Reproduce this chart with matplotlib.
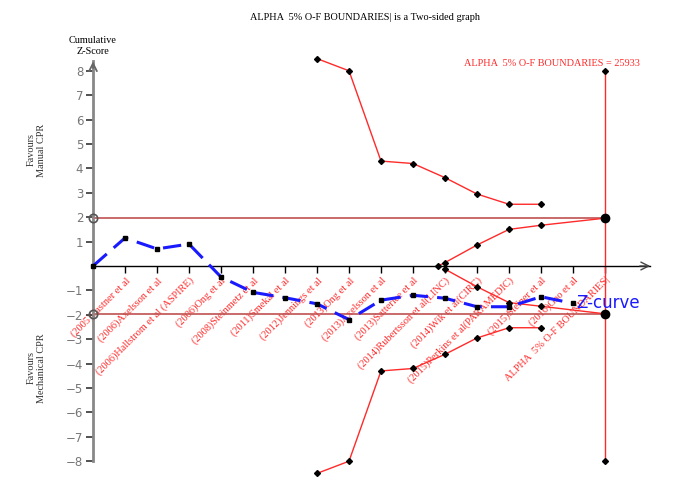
import matplotlib
matplotlib.use('Agg')
import matplotlib.pyplot as plt

# trials along the x axis (information axis)
studies = ['(2005)Castner et al', '(2006)Axelsson et al',
           '(2006)Hallstrom et al (ASPIRE)', '(2006)Ong et al',
           '(2008)Steinmetz et al', '(2011)Smekal et al',
           '(2012)Jennings et al', '(2013)Ong et al',
           '(2013)Axelsson et al', '(2013)Satterlee et al',
           '(2014)Rubertsson et al(LINC)', '(2014)Wik et al(CIRC)',
           '(2015)Perkins et al(PARAMEDIC)', '(2015)Steiner et al',
           '(2016)Gao et al', 'ALPHA  5% O-F BOUNDARIES|']
study_pos = list(range(1, 17))

# cumulative Z-curve
z_x = list(range(0, 16))
z_val = [0, 1.15, 0.7, 0.9, -0.45, -1.08, -1.3, -1.55, -2.2, -1.4, -1.2,
         -1.32, -1.67, -1.67, -1.26, -1.53]

# O'Brien-Fleming monitoring boundaries
obf_x = [7, 8, 9, 10, 11, 12, 13, 14]
obf_up = [8.5, 8.0, 4.3, 4.2, 3.62, 2.95, 2.53, 2.53]
obf_lo = [-8.5, -8.0, -4.3, -4.2, -3.62, -2.95, -2.53, -2.53]

# inner wedge
inner_up_x = [10.78, 11, 12, 13, 14, 16]
inner_up = [0, 0.14, 0.86, 1.5, 1.67, 1.96]
inner_lo_x = [11, 12, 13, 14, 16]
inner_lo = [-0.13, -0.85, -1.5, -1.65, -1.96]

ris_x = 16
ris_lim = [-8, 8]
conv = 1.96
y_ticks = [-8, -7, -6, -5, -4, -3, -2, -1, 1, 2, 3, 4, 5, 6, 7, 8]

serif = 'Liberation Serif'
red = '#ff2a2a'

fig = plt.figure(figsize=(6.73, 4.92), dpi=100)
ax = fig.add_axes([0, 0, 1, 1])
ax.set_xlim(-93 / 32, 580 / 32)
ax.set_ylim(-226 / 24.4, 266 / 24.4)

for s in ['top', 'right']:
    ax.spines[s].set_visible(False)
ax.spines['left'].set_position(('data', 0))
ax.spines['left'].set_bounds(-8, 8.4)
ax.spines['left'].set_color('#888888')
ax.spines['left'].set_linewidth(2)
ax.spines['bottom'].set_position(('data', 0))
ax.spines['bottom'].set_bounds(0, 17.4)
ax.spines['bottom'].set_linewidth(1)

ax.set_yticks(y_ticks)
ax.set_yticklabels([str(v).replace('-', '\u2212') for v in y_ticks])
ax.tick_params(axis='y', colors='#333333', labelcolor='#777777', length=5,
               width=1.2, labelsize=8.5, pad=2)
ax.set_xticks(study_pos)
ax.set_xticklabels(studies, rotation=45, ha='right', rotation_mode='anchor',
                   family=serif, fontsize=7.5, color=red)
ax.tick_params(axis='x', length=5, width=1, pad=2)

ax.annotate('', xy=(0, 8.5), xytext=(0, 8.0),
            arrowprops=dict(arrowstyle='->', color='#666666', lw=1.3,
                            mutation_scale=14))
ax.annotate('', xy=(17.5, 0), xytext=(17.0, 0),
            arrowprops=dict(arrowstyle='->', color='#444444', lw=1,
                            mutation_scale=14))

# conventional boundaries
ax.plot([0, ris_x], [conv, conv], color='#c05050', lw=1.2, zorder=2)
ax.plot([0, ris_x], [-conv, -conv], color='#c05050', lw=1.2, zorder=2)
ax.plot([0, 0], [conv, -conv], 'o', ms=6, mfc='none', mec='#555555', mew=1.2,
        zorder=5)

# boundaries
ax.plot(obf_x, obf_up, color=red, lw=1, marker='D', ms=3, mfc='k', mec='k')
ax.plot(obf_x, obf_lo, color=red, lw=1, marker='D', ms=3, mfc='k', mec='k')
ax.plot(inner_up_x, inner_up, color=red, lw=1, marker='D', ms=3, mfc='k', mec='k')
ax.plot(inner_lo_x, inner_lo, color=red, lw=1, marker='D', ms=3, mfc='k', mec='k')
ax.plot([ris_x, ris_x], ris_lim, color=red, lw=1, marker='D', ms=3,
        mfc='k', mec='k')
ax.plot([ris_x, ris_x], [conv, -conv], 'o', ms=6, color='k', zorder=6)

# Z-curve
ax.plot(z_x, z_val, color='#1a1aff', lw=2.2, ls=(0, (6, 3)), marker='s',
        ms=3, mfc='k', mec='k', zorder=4)
ax.text(15.1, z_val[-1], 'Z-curve', color='#1a1aff', fontsize=12,
        ha='left', va='center')

fig.text(365 / 673, 1 - 18 / 492, 'ALPHA  5% O-F BOUNDARIES| is a Two-sided graph',
         ha='center', va='center', family=serif, fontsize=7.4)
fig.text(552 / 673, 1 - 63 / 492, 'ALPHA  5% O-F BOUNDARIES = 25933',
         ha='center', va='center', family=serif, fontsize=7.4, color=red)
fig.text(93 / 673, 1 - 46 / 492, 'Cumulative\nZ-Score', ha='center',
         va='center', family=serif, fontsize=7.4, linespacing=1.15)
fig.text(36 / 673, 1 - 150 / 492, 'Favours\nManual CPR', ha='center',
         va='center', rotation=90, family=serif, fontsize=7.4, color='#333333')
fig.text(36 / 673, 1 - 368 / 492, 'Favours\nMechanical CPR', ha='center',
         va='center', rotation=90, family=serif, fontsize=7.4, color='#333333')

fig.savefig('out.png', dpi=100)
